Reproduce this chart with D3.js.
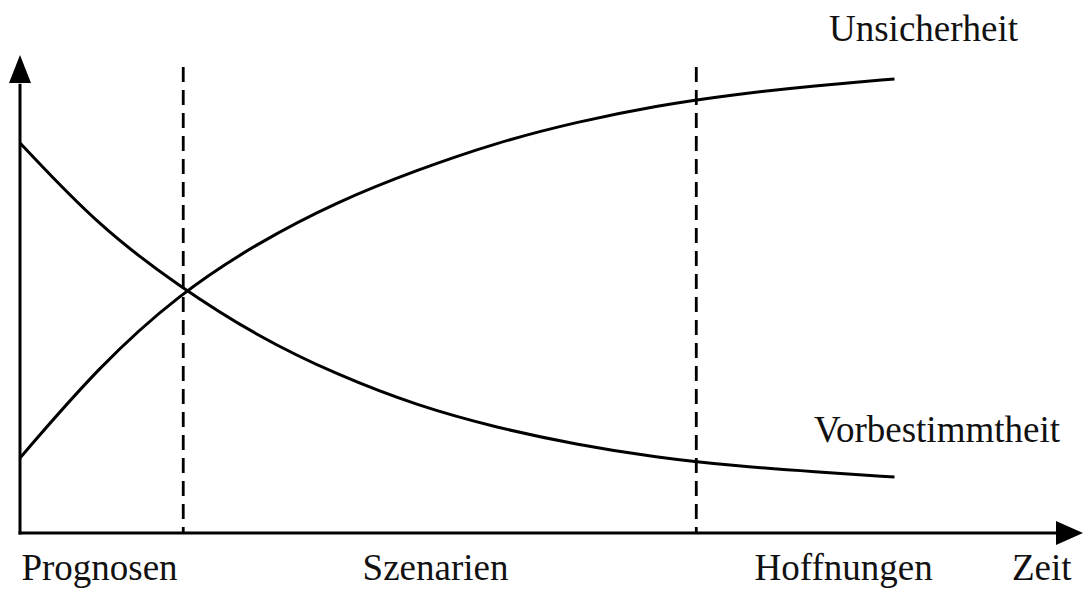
<!DOCTYPE html>
<html>
<head>
<meta charset="utf-8">
<script src="https://cdn.jsdelivr.net/npm/d3@7"></script>
<style>
  body { margin: 0; background: #fff; }
  text { font-family: "Liberation Serif", "Times New Roman", serif; font-size: 37px; fill: #111; }
</style>
</head>
<body>
<div id="chart"></div>
<script>
// time values (abstract units along the Zeit axis)
var zeit = [0, 7.5, 15, 22.5, 30, 37.5, 45, 52.5, 60, 67.5, 75, 82.5];
var unsicherheit = [15.7, 35.0, 50.0, 60.8, 69.4, 76.0, 81.7, 86.0, 89.4, 91.8, 93.6, 95.0];
var vorbestimmtheit = [81.6, 64.0, 51.6, 41.0, 33.0, 26.6, 22.0, 18.5, 15.8, 14.0, 12.8, 11.7];

// phase boundaries and labels
var grenzen = [15.4, 63.8];
var phasen = ["Prognosen", "Szenarien", "Hoffnungen"];
var phasenMitte = [7.5, 39.2, 77.7];

var width = 1083,
height = 589;

var x = d3.scaleLinear().domain([0, 100]).range([20, 1080]);
var y = d3.scaleLinear().domain([0, 100]).range([533, 55]);

var svg = d3.select("#chart").append("svg")
  .attr("width", width)
  .attr("height", height);

// axes with arrowheads
svg.append("line")
  .attr("x1", x(0)).attr("y1", y(0) + 1.5)
  .attr("x2", x(0)).attr("y2", y(94))
  .attr("stroke", "#000").attr("stroke-width", 3);

svg.append("path")
  .attr("d", "M" + x(0) + "," + y(100) + "L" + (x(0) - 11) + "," + (y(100) + 28) + "L" + (x(0) + 11) + "," + (y(100) + 28) + "Z")
  .attr("fill", "#000");

svg.append("line")
  .attr("x1", x(0) - 1.5).attr("y1", y(0))
  .attr("x2", 1060).attr("y2", y(0))
  .attr("stroke", "#000").attr("stroke-width", 3);

svg.append("path")
  .attr("d", "M1083," + y(0) + "L1056," + (y(0) - 12) + "L1056," + (y(0) + 12) + "Z")
  .attr("fill", "#000");

// dashed phase boundaries
svg.selectAll(".grenze")
  .data(grenzen)
  .enter().append("line")
  .attr("class", "grenze")
  .attr("x1", function(d) { return x(d); })
  .attr("x2", function(d) { return x(d); })
  .attr("y1", y(97.5))
  .attr("y2", y(0))
  .attr("stroke", "#000")
  .attr("stroke-width", 2.8)
  .attr("stroke-dasharray", "15,8");

// curves
var line = d3.line()
  .x(function(d) { return x(d[0]); })
  .y(function(d) { return y(d[1]); })
  .curve(d3.curveBasis);

function render(values) {
  svg.append("path")
    .datum(d3.zip(zeit, values))
    .attr("fill", "none")
    .attr("stroke", "#000")
    .attr("stroke-width", 3)
    .attr("d", line);
}

render(unsicherheit);
render(vorbestimmtheit);

// labels
svg.append("text").attr("x", 829).attr("y", 41).text("Unsicherheit");
svg.append("text").attr("x", 814).attr("y", 442).text("Vorbestimmtheit");

svg.selectAll(".phase")
  .data(phasen)
  .enter().append("text")
  .attr("class", "phase")
  .attr("x", function(d, i) { return x(phasenMitte[i]); })
  .attr("y", 580)
  .attr("text-anchor", "middle")
  .text(function(d) { return d; });

svg.append("text").attr("x", 1012).attr("y", 580).text("Zeit");
</script>
</body>
</html>
